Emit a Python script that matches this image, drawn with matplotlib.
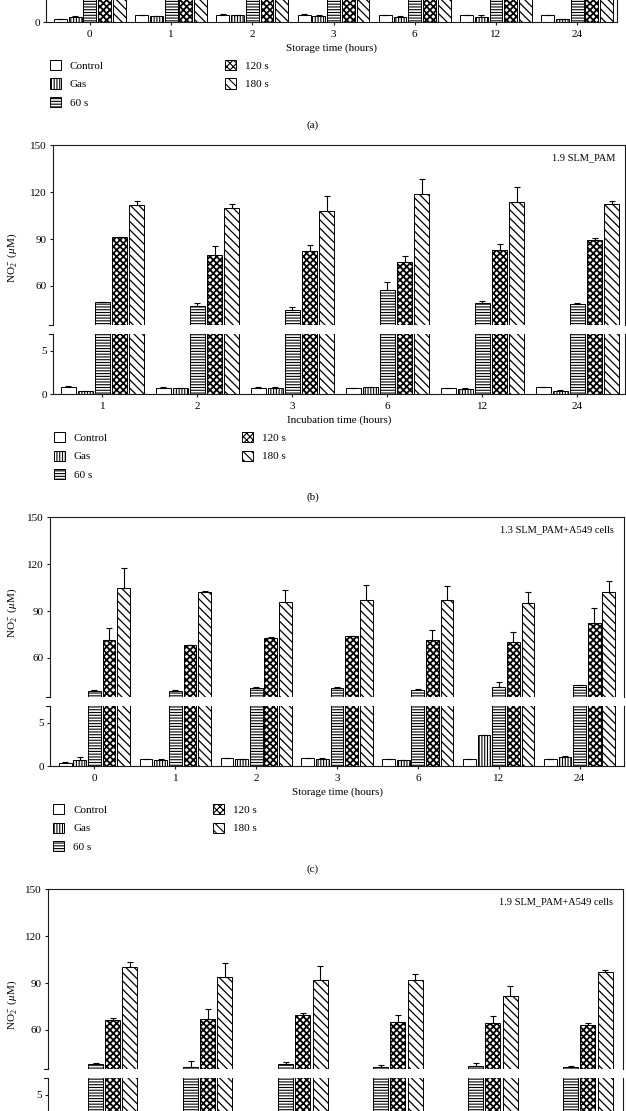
import numpy as np
import matplotlib
matplotlib.use("Agg")
import matplotlib.pyplot as plt
from matplotlib.patches import Patch

plt.rcParams['font.family'] = ['Liberation Serif', 'DejaVu Serif']
plt.rcParams['mathtext.fontset'] = 'custom'
plt.rcParams['mathtext.rm'] = 'Liberation Serif'
plt.rcParams['mathtext.it'] = 'Liberation Serif:italic'
plt.rcParams['hatch.linewidth'] = 0.8
plt.rcParams['font.size'] = 8

W, H = 626, 1111

series = ['Control', 'Gas', '60 s', '120 s', '180 s']
hatches = ['', '||||||', '------', 'xxxxx', '\\\\\\\\']
hatch_lw = [0.8, 0.8, 0.8, 1.3, 0.9]

# (a) only the foot of the lower axis is left in the crop
a_times = ['0', '1', '2', '3', '6', '12', '24']
a_ctrl = [0.31, 0.78, 0.86, 0.86, 0.78, 0.82, 0.78]
a_ctrl_err = [0.03, 0.03, 0.04, 0.05, 0.03, 0.03, 0.03]
a_gas = [0.58, 0.70, 0.78, 0.70, 0.62, 0.58, 0.31]
a_gas_err = [0.12, 0.05, 0.03, 0.16, 0.12, 0.23, 0.05]
# treated bars leave the crop at the top; heights are rough guesses
a_60 = [45, 44, 46, 45, 47, 45, 44]
a_120 = [75, 74, 78, 76, 73, 77, 80]
a_180 = [95, 97, 99, 96, 100, 98, 97]
a_big_err = [1, 1, 1, 1, 1, 1, 1]

# (b) 1.9 SLM_PAM, incubation
b_times = ['1', '2', '3', '6', '12', '24']
b_ctrl = [0.84, 0.65, 0.75, 0.72, 0.70, 0.80]
b_ctrl_err = [0.03, 0.15, 0.03, 0.03, 0.03, 0.03]
b_gas = [0.30, 0.72, 0.75, 0.80, 0.57, 0.36]
b_gas_err = [0.03, 0.03, 0.03, 0.03, 0.15, 0.05]
b_60 = [49.6, 47.2, 44.4, 57.2, 48.9, 48.7]
b_60_err = [0.3, 1.7, 2.1, 5.1, 1.7, 0.3]
b_120 = [91.2, 80.0, 82.6, 75.6, 83.0, 89.4]
b_120_err = [0.4, 5.3, 3.6, 3.4, 3.8, 1.5]
b_180 = [112.0, 109.7, 108.2, 118.8, 113.7, 112.3]
b_180_err = [2.4, 2.7, 9.2, 9.8, 9.6, 2.1]

# (c) 1.3 SLM_PAM+A549 cells, storage
c_times = ['0', '1', '2', '3', '6', '12', '24']
c_ctrl = [0.39, 0.82, 0.90, 0.90, 0.78, 0.82, 0.78]
c_ctrl_err = [0.03, 0.03, 0.03, 0.03, 0.03, 0.03, 0.03]
c_gas = [0.70, 0.74, 0.82, 0.86, 0.66, 3.55, 1.05]
c_gas_err = [0.30, 0.03, 0.03, 0.03, 0.03, 0.05, 0.05]
c_60 = [39.1, 39.1, 40.9, 40.9, 39.6, 41.7, 42.5]
c_60_err = [0.4, 0.4, 0.4, 0.3, 0.3, 2.8, 0.3]
c_120 = [71.7, 68.0, 73.0, 74.0, 71.7, 70.0, 82.5]
c_120_err = [7.7, 0.3, 0.4, 0.3, 6.2, 6.6, 9.2]
c_180 = [104.9, 102.3, 95.5, 96.8, 97.2, 95.1, 102.3]
c_180_err = [12.6, 0.4, 8.1, 9.6, 8.7, 6.8, 6.8]

# (d) 1.9 SLM_PAM+A549 cells, cut off just below the break
d_times = ['1', '2', '3', '6', '12', '24']
d_ctrl = [0.7, 0.7, 0.7, 0.7, 0.7, 0.7]
d_gas = [0.6, 0.6, 0.6, 0.6, 0.6, 0.6]
d_small_err = [0.03, 0.03, 0.03, 0.03, 0.03, 0.03]
d_60 = [38.1, 36.4, 38.0, 36.4, 36.6, 36.4]
d_60_err = [1.0, 3.7, 1.5, 1.0, 2.2, 0.7]
d_120 = [66.2, 67.3, 69.8, 65.3, 64.3, 63.2]
d_120_err = [1.7, 6.2, 1.0, 4.5, 4.3, 1.5]
d_180 = [100.5, 94.0, 92.2, 92.1, 81.4, 96.8]
d_180_err = [3.0, 8.8, 8.6, 3.6, 6.9, 1.5]

LINE = '#1a1a1a'

fig = plt.figure(figsize=(W / 100, H / 100), dpi=100)


def add_ax(left, top, right, bottom):
    return fig.add_axes([left / W, 1 - bottom / H, (right - left) / W, (bottom - top) / H])


def style(ax):
    for s in ax.spines.values():
        s.set_color(LINE)
        s.set_linewidth(0.8)
    ax.tick_params(length=2.5, width=0.8, color=LINE, labelsize=8, pad=2)


def set_hlw(patch, lw):
    # per-artist hatch width where matplotlib supports it
    if hasattr(patch, 'set_hatch_linewidth'):
        patch.set_hatch_linewidth(lw)


def bars(ax, n, vals, errs):
    x = np.arange(n)
    for i in range(5):
        xs = x + (i - 2) * 0.181
        bc = ax.bar(xs, vals[i], 0.158, facecolor='white', edgecolor='k',
                    hatch=hatches[i], linewidth=0.7, zorder=2)
        for p in bc:
            set_hlw(p, hatch_lw[i])
        ax.errorbar(xs, vals[i], yerr=[np.zeros(n), errs[i]], fmt='none',
                    ecolor='k', elinewidth=0.8, capsize=2.3, capthick=0.8, zorder=3)


def draw_panel(top, left, right, pad, times, vals, errs, xlabel, tag,
               leg_x1, leg_x2, caption, ylab_y, show_top=True, show_foot=True):
    n = len(times)
    wpx = right - left

    if show_top:
        ax_up = add_ax(left, top, right, top + 179.7)
        bars(ax_up, n, vals, errs)
        style(ax_up)
        ax_up.set_xlim(-pad[0], n - 1 + pad[1])
        ax_up.spines['bottom'].set_visible(False)
        ax_up.tick_params(axis='x', bottom=False, labelbottom=False)
        ax_up.set_ylim(35, 150)
        ax_up.set_yticks([60, 90, 120, 150])
        ax_up.plot([-4 / wpx, 0], [0, 0], transform=ax_up.transAxes, color=LINE, lw=0.8, clip_on=False)
        fig.text((right - 10) / W, 1 - (top + 12) / H, tag, ha='right', va='center', fontsize=7.5)
        fig.text(12 / W, 1 - ylab_y / H, r'$\mathrm{NO_2^-}$ ($\mu$M)', rotation=90,
                 ha='center', va='center', fontsize=8)

    ax_lo = add_ax(left, top + 189, right, top + 248.7)
    bars(ax_lo, n, vals, errs)
    style(ax_lo)
    ax_lo.set_xlim(-pad[0], n - 1 + pad[1])
    ax_lo.spines['top'].set_visible(False)
    ax_lo.set_ylim(0, 6.9)
    ax_lo.plot([-4 / wpx, 0], [1, 1], transform=ax_lo.transAxes, color=LINE, lw=0.8, clip_on=False)

    if not show_foot:
        # only the upper end of this axis is inside the picture
        ax_lo.set_yticks([5])
        ax_lo.tick_params(axis='x', bottom=False, labelbottom=False)
        return
    if not show_top:
        ax_lo.set_yticks([0])
    else:
        ax_lo.set_yticks([0, 5])
    ax_lo.set_xticks(np.arange(n))
    ax_lo.set_xticklabels(times)
    ax_lo.tick_params(axis='x', pad=3)
    ax_lo.set_xlabel(xlabel, fontsize=8, labelpad=3.5)

    handles = []
    for i in range(5):
        h = Patch(facecolor='white', edgecolor='k', hatch=hatches[i],
                  linewidth=0.7, label=series[i])
        set_hlw(h, hatch_lw[i])
        handles.append(h)
    leg_top = top + 248.7 + 38
    kw = dict(loc='upper left', bbox_transform=fig.transFigure, frameon=False,
              borderpad=0, borderaxespad=0, handlelength=0.95, handleheight=1.05,
              handletextpad=0.85, labelspacing=0.68, fontsize=8)
    fig.legend(handles=handles[:3], bbox_to_anchor=(leg_x1 / W, 1 - leg_top / H), **kw)
    fig.legend(handles=handles[3:], bbox_to_anchor=(leg_x2 / W, 1 - leg_top / H), **kw)

    fig.text(313 / W, 1 - (top + 248.7 + 103) / H, caption, ha='center', va='center', fontsize=8)


T0 = 145.3
draw_panel(T0 - 372, 46, 617, (0.54, 0.49), a_times,
           [a_ctrl, a_gas, a_60, a_120, a_180],
           [a_ctrl_err, a_gas_err, a_big_err, a_big_err, a_big_err],
           'Storage time (hours)', '', 50, 225, '(a)', 0, show_top=False)
draw_panel(T0, 53, 625, (0.52, 0.5), b_times,
           [b_ctrl, b_gas, b_60, b_120, b_180],
           [b_ctrl_err, b_gas_err, b_60_err, b_120_err, b_180_err],
           'Incubation time (hours)', '1.9 SLM_PAM', 54, 242, '(b)', T0 + 113)
draw_panel(T0 + 372, 50, 624, (0.55, 0.55), c_times,
           [c_ctrl, c_gas, c_60, c_120, c_180],
           [c_ctrl_err, c_gas_err, c_60_err, c_120_err, c_180_err],
           'Storage time (hours)', '1.3 SLM_PAM+A549 cells', 53, 213, '(c)', T0 + 372 + 96)
draw_panel(T0 + 744, 48, 623, (0.5, 0.55), d_times,
           [d_ctrl, d_gas, d_60, d_120, d_180],
           [d_small_err, d_small_err, d_60_err, d_120_err, d_180_err],
           '', '1.9 SLM_PAM+A549 cells', 53, 213, '', T0 + 744 + 116, show_foot=False)

fig.savefig('out.png', dpi=100)
